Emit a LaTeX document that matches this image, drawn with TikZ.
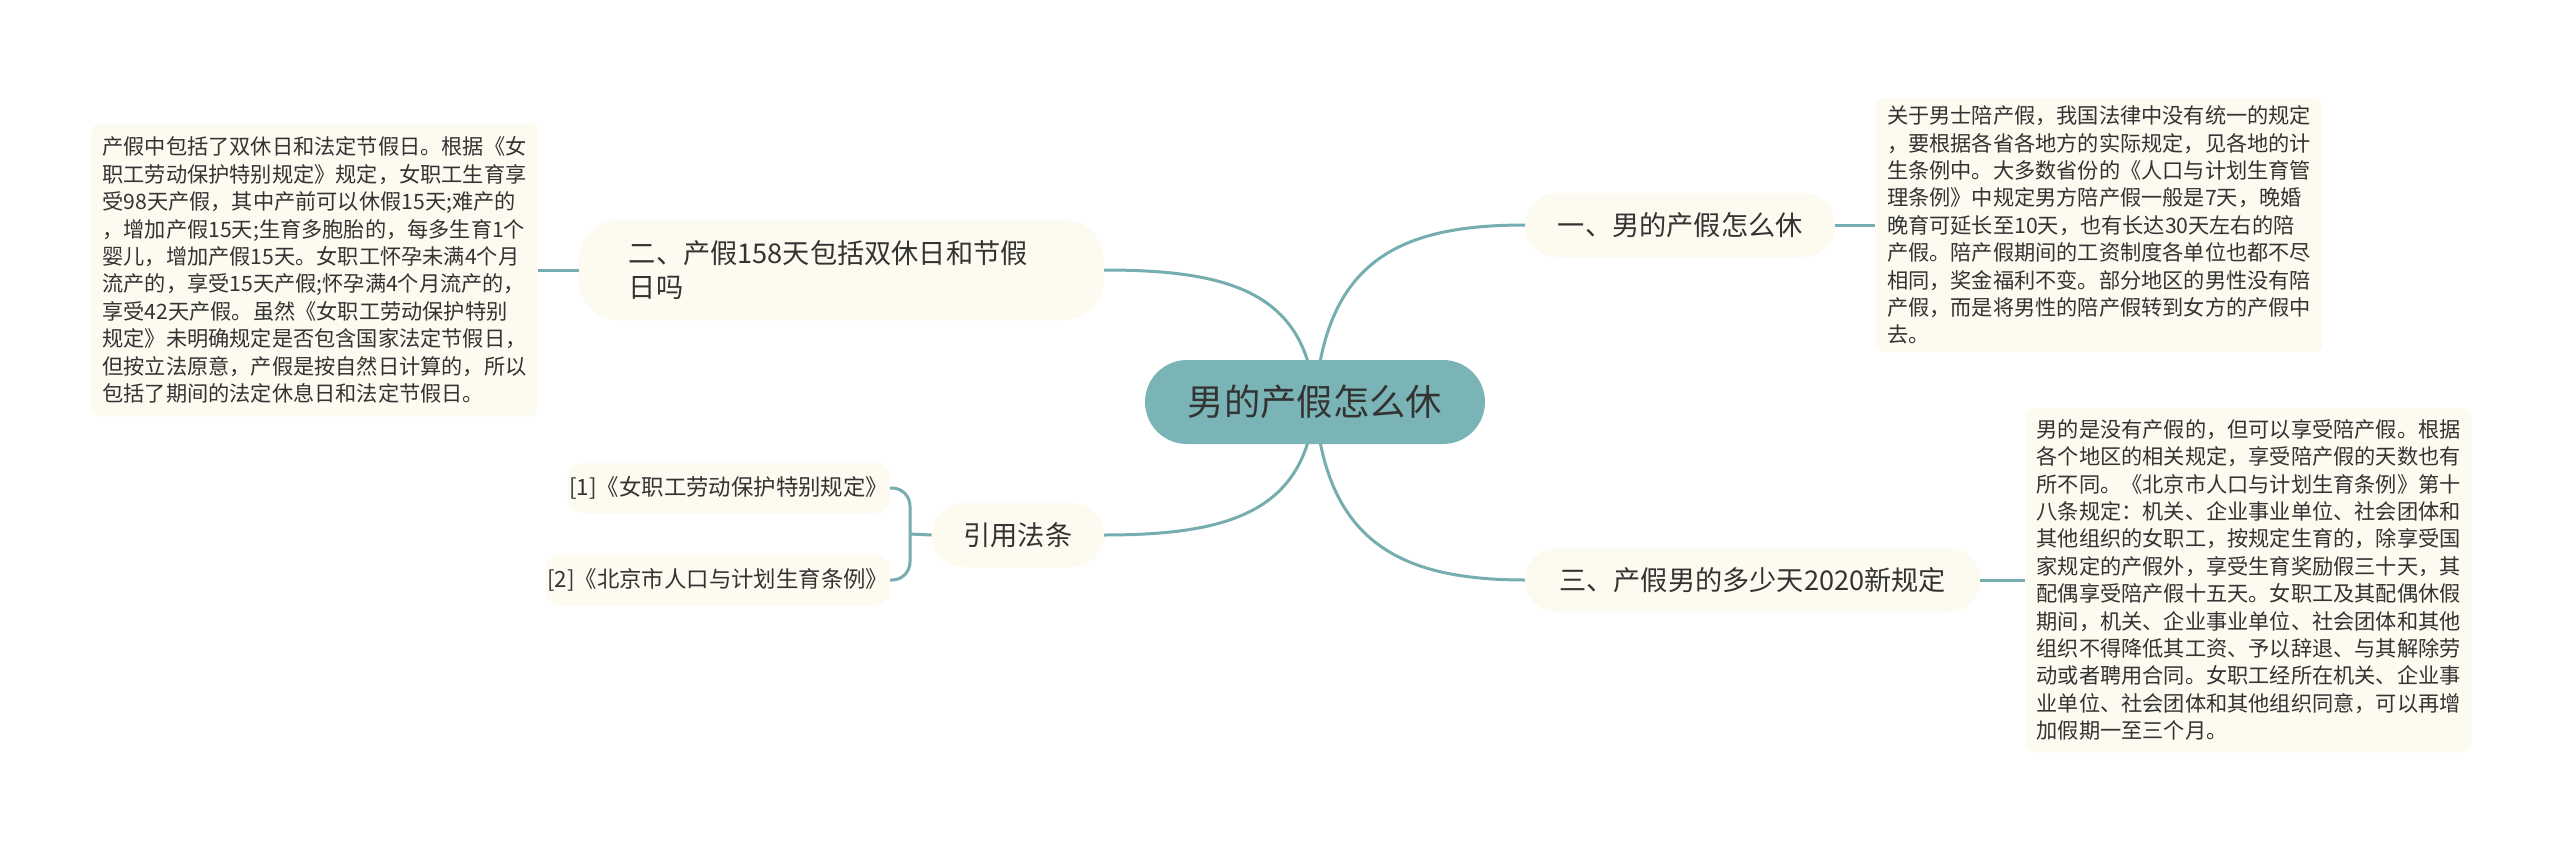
\documentclass[tikz,border=0pt]{standalone}
\usepackage{fontspec}
\setmainfont{Noto Sans CJK SC}
\usepackage{xcolor}
\usepackage{tikz}
\usetikzlibrary{positioning,backgrounds}
\definecolor{rootteal}{HTML}{7AB4B6}
\definecolor{linkteal}{HTML}{76ADAF}
\definecolor{paper}{HTML}{FDFAF0}
\definecolor{ink}{HTML}{333333}
\tikzset{
  rootbox/.style={
    rectangle, fill=rootteal, text=ink, rounded corners=42pt,
    minimum width=340pt, minimum height=84pt, inner sep=0pt,
    font=\fontsize{36.3}{40}\selectfont
  },
  topicbox/.style={
    rectangle, fill=paper, text=ink, rounded corners=32pt,
    minimum width=#1, minimum height=64pt, inner sep=0pt,
    font=\fontsize{27.2}{34}\selectfont
  },
  topicbox/.default=300pt,
  refbox/.style={
    rectangle, fill=paper, text=ink, rounded corners=14pt,
    minimum width=#1, minimum height=50pt, inner sep=0pt,
    font=\fontsize{22.4}{26}\selectfont
  },
  refbox/.default=320pt,
  notebox/.style={
    rectangle, fill=paper, text=ink, rounded corners=8pt,
    align=left, inner xsep=11pt, inner ysep=6pt,
    font=\fontsize{21.2}{27.4}\selectfont
  },
  link/.style={draw=linkteal, line width=3pt},
}

\begin{document}
\begin{tikzpicture}[x=1pt, y=-1pt]
\useasboundingbox (0,0) rectangle (2560,846);

% CENTRE
\node[rootbox] (root) at (1315,402) {男的产假怎么休};

% MAIN TOPICS
\node[topicbox=310pt, anchor=west] (t1) at (1525,225) {一、男的产假怎么休};
\node[topicbox=455pt, anchor=west] (t3) at (1525,580) {三、产假男的多少天2020新规定};
\node[topicbox=525pt, anchor=east, minimum height=100pt, rounded corners=40pt,
      text width=425pt, align=left] (t2) at (1104,270)
  {二、产假158天包括双休日和节假\\日吗};
\node[topicbox=172pt, anchor=east] (cite) at (1104,535) {引用法条};

% NOTES
\node[notebox, right=40pt of t1, minimum width=447pt, minimum height=253pt] (n1)
  {关于男士陪产假，我国法律中没有统一的规定\\
   ，要根据各省各地方的实际规定，见各地的计\\
   生条例中。大多数省份的《人口与计划生育管\\
   理条例》中规定男方陪产假一般是7天，晚婚\\
   晚育可延长至10天，也有长达30天左右的陪\\
   产假。陪产假期间的工资制度各单位也都不尽\\
   相同，奖金福利不变。部分地区的男性没有陪\\
   产假，而是将男性的陪产假转到女方的产假中\\
   去。};
\node[notebox, left=41pt of t2, minimum width=446pt, minimum height=292pt] (n2)
  {产假中包括了双休日和法定节假日。根据《女\\
   职工劳动保护特别规定》规定，女职工生育享\\
   受98天产假，其中产前可以休假15天;难产的\\
   ，增加产假15天;生育多胞胎的，每多生育1个\\
   婴儿，增加产假15天。女职工怀孕未满4个月\\
   流产的，享受15天产假;怀孕满4个月流产的，\\
   享受42天产假。虽然《女职工劳动保护特别\\
   规定》未明确规定是否包含国家法定节假日，\\
   但按立法原意，产假是按自然日计算的，所以\\
   包括了期间的法定休息日和法定节假日。};
\node[notebox, right=45pt of t3, minimum width=443pt, minimum height=344pt] (n3)
  {男的是没有产假的，但可以享受陪产假。根据\\
   各个地区的相关规定，享受陪产假的天数也有\\
   所不同。《北京市人口与计划生育条例》第十\\
   八条规定：机关、企业事业单位、社会团体和\\
   其他组织的女职工，按规定生育的，除享受国\\
   家规定的产假外，享受生育奖励假三十天，其\\
   配偶享受陪产假十五天。女职工及其配偶休假\\
   期间，机关、企业事业单位、社会团体和其他\\
   组织不得降低其工资、予以辞退、与其解除劳\\
   动或者聘用合同。女职工经所在机关、企业事\\
   业单位、社会团体和其他组织同意，可以再增\\
   加假期一至三个月。};

% REFERENCES
\node[refbox=322pt, anchor=east] (r1) at (890,488) {[1]《女职工劳动保护特别规定》};
\node[refbox=344pt, anchor=east] (r2) at (890,580) {[2]《北京市人口与计划生育条例》};
\coordinate (fork) at (910,534);

% topic to note
\draw[link] (t1.east) -- (n1.west);
\draw[link] (t2.west) -- (n2.east);
\draw[link] (t3.east) -- (n3.west);

% bracket for references
\draw[link] (cite.west) -- (fork);
\draw[link, rounded corners=18pt] (r1.east) -| (fork);
\draw[link, rounded corners=18pt] (r2.east) -| (fork);

% centre to topics, behind the nodes
\begin{scope}[on background layer]
  \fill[white] (0,0) rectangle (2560,846);
  \draw[link] (root.center) .. controls +(10,-142) and +(-125,0) .. (t1.west);
  \draw[link] (root.center) .. controls +(10,140) and +(-125,0) .. (t3.west);
  \draw[link] (root.center) .. controls +(-8,-110) and +(125,0) .. (t2.east);
  \draw[link] (root.center) .. controls +(-8,110) and +(125,0) .. (cite.east);
\end{scope}

\end{tikzpicture}
\end{document}
